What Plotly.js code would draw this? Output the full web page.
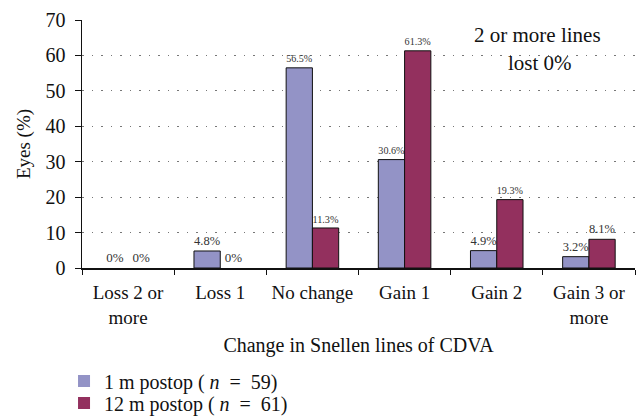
<!DOCTYPE html>
<html>
<head>
<meta charset="utf-8">
<script src="https://cdn.plot.ly/plotly-3.0.1.min.js"></script>
<style>html,body{margin:0;padding:0;background:#fff;}#chart{width:641px;height:420px;}</style>
</head>
<body>
<div id="chart"></div>
<script>
const categories = ["Loss 2 or<br>more", "Loss 1", "No change", "Gain 1", "Gain 2", "Gain 3 or<br>more"];
const series1Name = "1 m postop ( <i>n</i>\u2002=\u200259)";
const series2Name = "12 m postop ( <i>n</i>\u2002=\u200261)";
const series1Values = [0, 4.8, 56.5, 30.6, 4.9, 3.2];
const series2Values = [0, 0, 11.3, 61.3, 19.3, 8.1];
const yTicks = [0, 10, 20, 30, 40, 50, 60, 70];

const FONT = "Liberation Serif";
const fmt = v => (v === 0 ? "0%" : v.toFixed(1) + "%");
const lineW = vals => vals.map(v => (v === 0 ? 0 : 1));

const traces = [
  {
    type: "bar", name: series1Name, x: categories, y: series1Values, legend: "legend",
    text: series1Values.map(fmt), textposition: "outside", cliponaxis: false,
    textfont: {family: FONT, size: 13, color: "#333"},
    marker: {color: "#9393c6", line: {color: "#111", width: lineW(series1Values)}}
  },
  {
    type: "bar", name: series2Name, x: categories, y: series2Values, legend: "legend2",
    text: series2Values.map(fmt), textposition: "outside", cliponaxis: false,
    textfont: {family: FONT, size: 13, color: "#333"},
    marker: {color: "#93305e", line: {color: "#111", width: lineW(series2Values)}}
  }
];

const legendBase = {
  xanchor: "left", yanchor: "middle", orientation: "v",
  font: {family: FONT, size: 20, color: "#111"},
  bgcolor: "rgba(0,0,0,0)", borderwidth: 0
};

const layout = {
  width: 641, height: 420,
  margin: {l: 82, r: 6, t: 20, b: 152, autoexpand: false},
  paper_bgcolor: "#fff", plot_bgcolor: "#fff",
  font: {family: FONT, size: 19, color: "#111"},
  barmode: "group", bargap: 0.43, bargroupgap: 0,
  showlegend: true,
  legend: Object.assign({}, legendBase, {x: -0.0325, y: -0.4556}),
  legend2: Object.assign({}, legendBase, {x: -0.0325, y: -0.5444}),
  xaxis: {
    type: "category", tickson: "boundaries", ticks: "outside", ticklen: 5,
    tickcolor: "#111", showline: true, linecolor: "#111", linewidth: 1.5,
    showgrid: false, zeroline: false, ticklabelstandoff: 7,
    tickfont: {family: FONT, size: 19, color: "#111"},
    title: {text: "Change in Snellen lines of CDVA", font: {family: FONT, size: 20, color: "#111"}, standoff: 11}
  },
  yaxis: {
    range: [0, 70], tickvals: yTicks, ticks: "outside", ticklen: 6, tickcolor: "#111",
    showline: true, linecolor: "#111", linewidth: 1.5,
    showgrid: true, gridcolor: "#777", gridwidth: 1, griddash: "1.5px,8px",
    zeroline: false, ticklabelstandoff: 5,
    tickfont: {family: FONT, size: 20, color: "#111"},
    title: {text: "Eyes (%)", font: {family: FONT, size: 19, color: "#111"}, standoff: 10}
  },
  annotations: [
    {xref: "paper", yref: "y", x: 0.823, xanchor: "center", y: 65.8, text: "2 or more lines", showarrow: false,
     font: {family: FONT, size: 21, color: "#111"}},
    {xref: "paper", yref: "y", x: 0.828, xanchor: "center", y: 57.9, text: "lost 0%", showarrow: false,
     font: {family: FONT, size: 21, color: "#111"}}
  ]
};

Plotly.newPlot("chart", traces, layout, {displayModeBar: false, staticPlot: true});
</script>
</body>
</html>
